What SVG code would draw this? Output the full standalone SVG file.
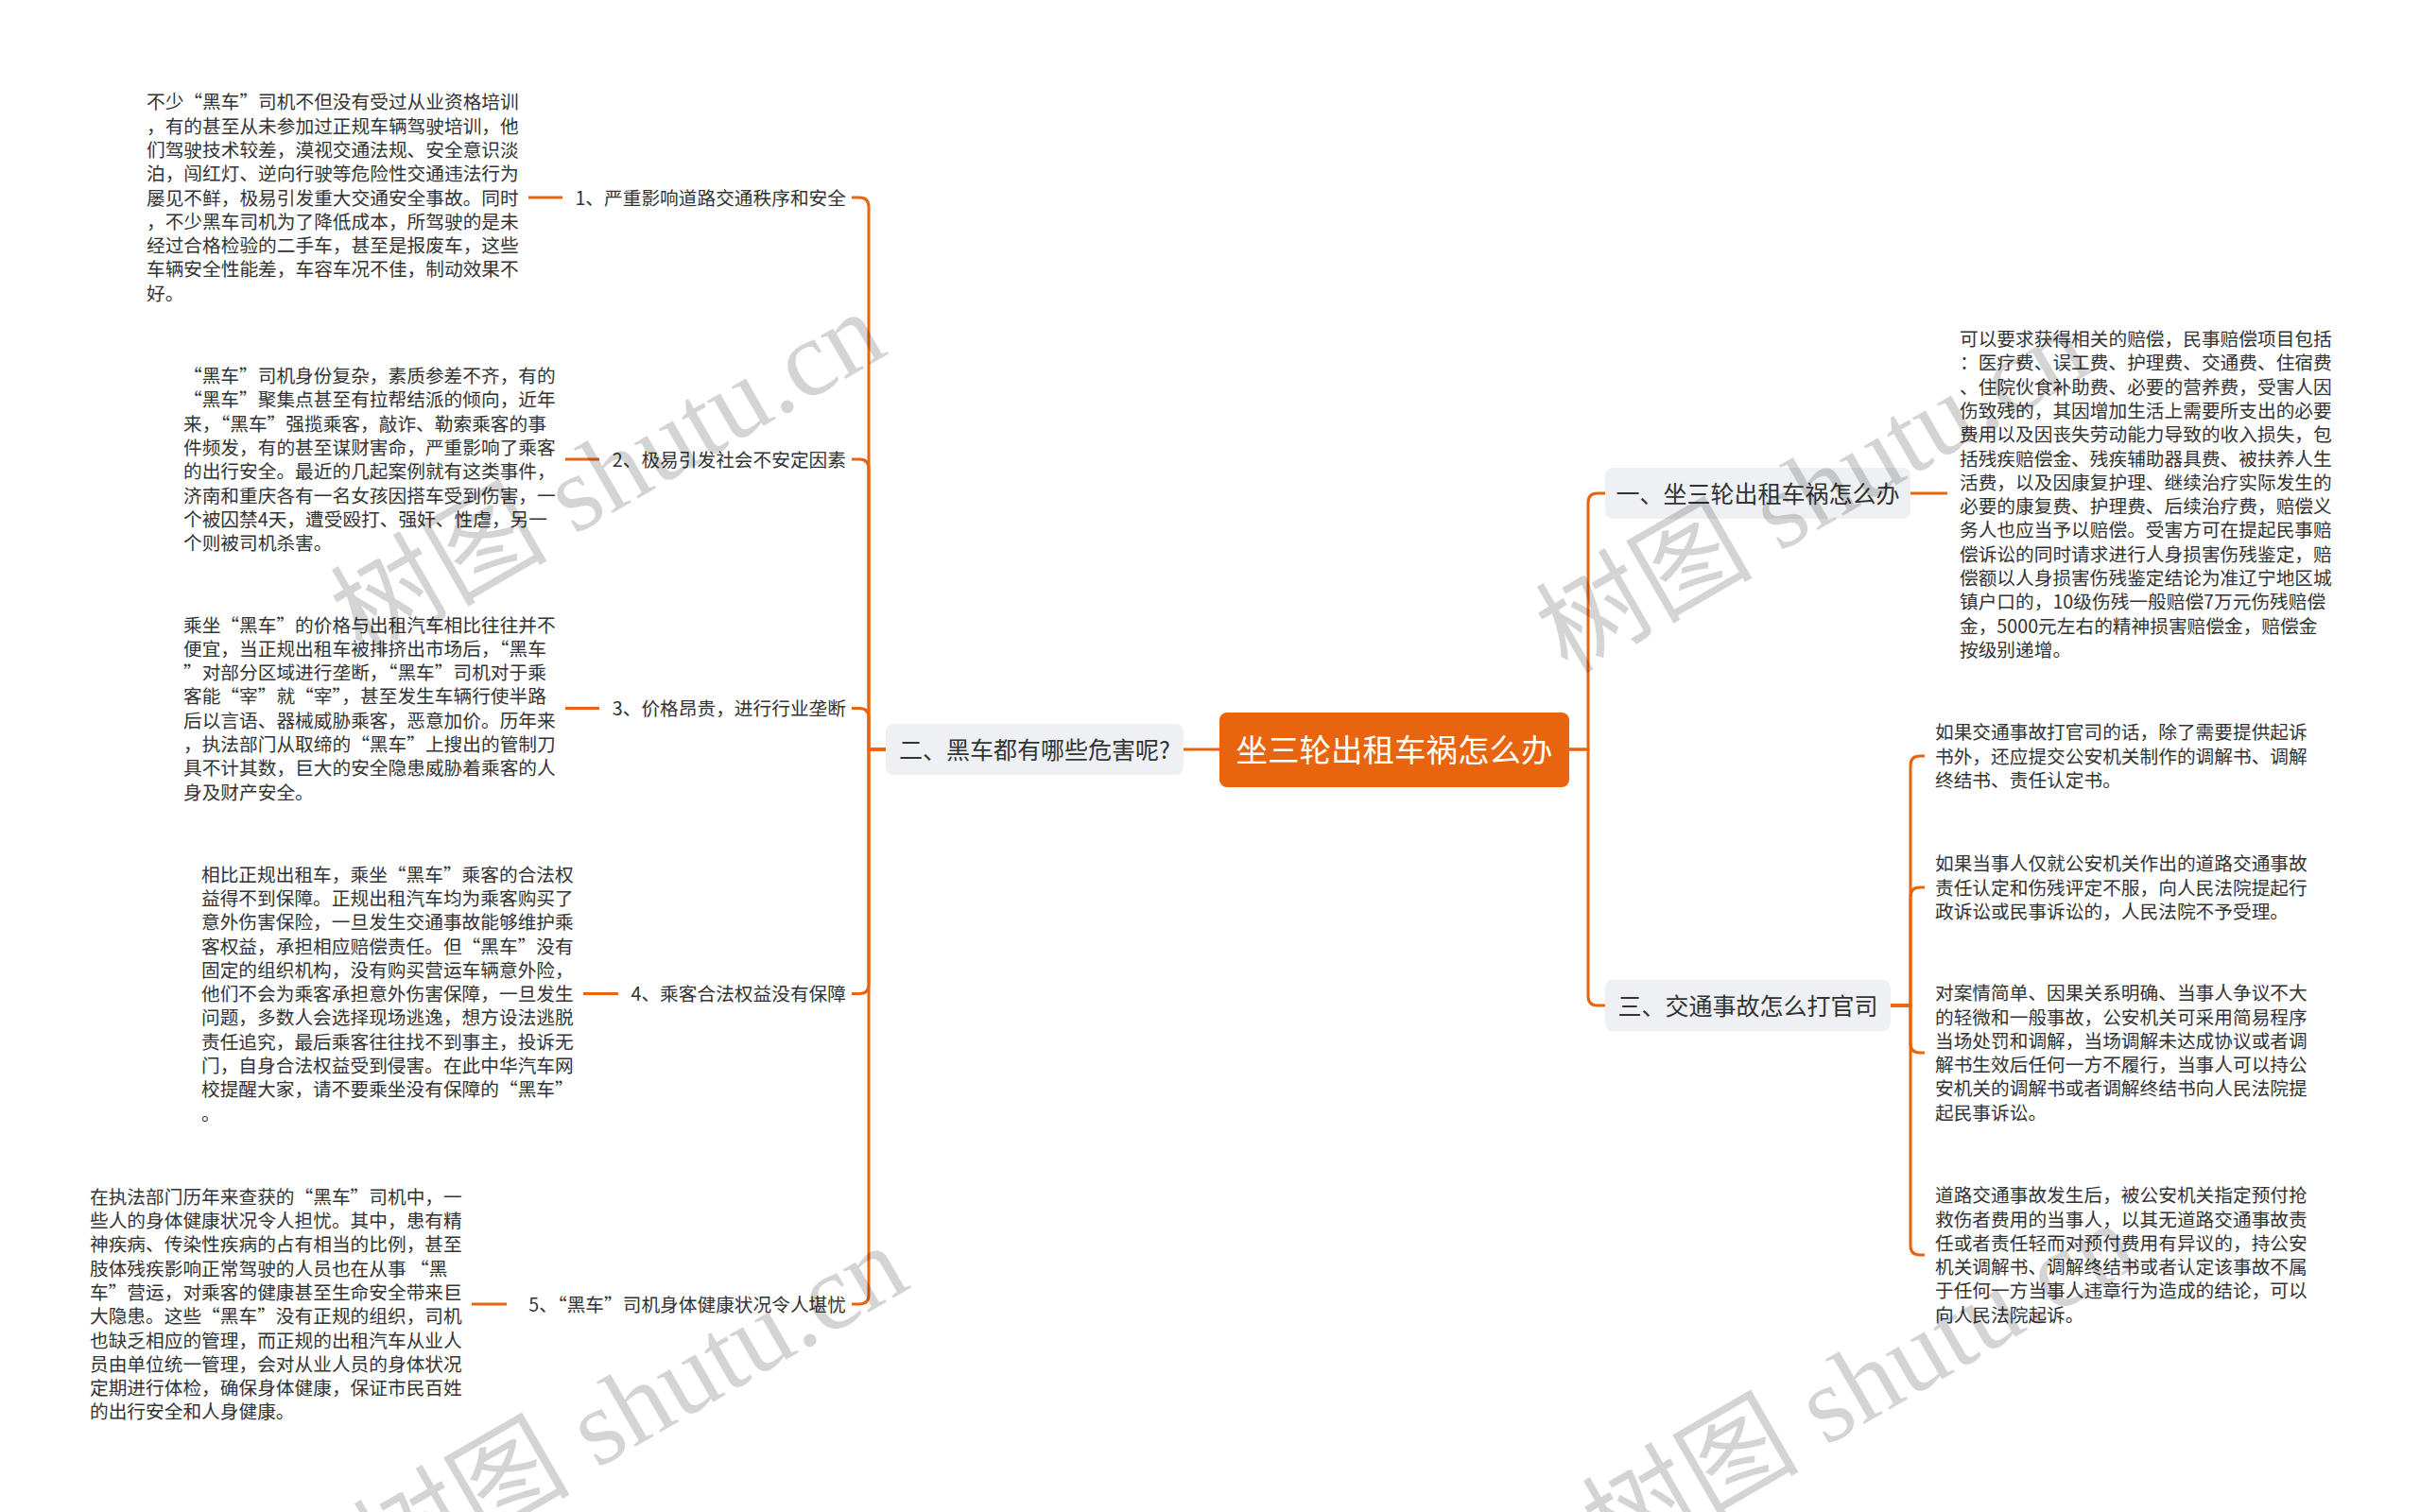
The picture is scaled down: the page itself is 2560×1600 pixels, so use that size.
<svg xmlns="http://www.w3.org/2000/svg" width="2560" height="1600" viewBox="0 0 2560 1600">
<style>
.t{font-family:"Noto Sans CJK SC","Noto Sans",sans-serif;font-size:19.7px;fill:#333}
.n{font-family:"Noto Sans CJK SC","Noto Sans",sans-serif;font-size:25px;fill:#333;text-anchor:middle}
.r{font-family:"Noto Sans CJK SC","Noto Sans",sans-serif;font-size:33.5px;fill:#fff;text-anchor:middle}
.box{fill:#EEF0F3}
.c{stroke:#E8640F;stroke-width:3;fill:none}
.wm{font-family:"Liberation Serif","Noto Sans CJK SC",serif;font-size:115px;fill:#000;fill-opacity:0.17}
</style>
<rect width="2560" height="1600" fill="#fff"/>
<g id="connectors">
<path class="c" d="M1290 793H1252"/>
<path class="c" d="M937 793H919V219Q919 209 909 209H901"/>
<path class="c" d="M937 793H919V496Q919 486 909 486H901"/>
<path class="c" d="M937 793H919V759.5Q919 749.5 909 749.5H901"/>
<path class="c" d="M937 793H919V1041.6Q919 1051.6 909 1051.6H901"/>
<path class="c" d="M937 793H919V1370Q919 1380 909 1380H901"/>
<path class="c" d="M559 209H595"/>
<path class="c" d="M598 486H634"/>
<path class="c" d="M598 749.5H634"/>
<path class="c" d="M617 1051.6H654"/>
<path class="c" d="M499 1380H536"/>
<path class="c" d="M1660 793H1680V532Q1680 522 1690 522H1698"/>
<path class="c" d="M1660 793H1680V1054Q1680 1064 1690 1064H1698"/>
<path class="c" d="M2021 522H2060"/>
<path class="c" d="M2000 1064H2021V810Q2021 800 2031 800H2036"/>
<path class="c" d="M2000 1064H2021V949Q2021 939 2031 939H2036"/>
<path class="c" d="M2000 1064H2021V1104Q2021 1114 2031 1114H2036"/>
<path class="c" d="M2000 1064H2021V1318Q2021 1328 2031 1328H2036"/>
</g>
<g id="root">
<rect x="1290" y="754" width="370" height="79" rx="8" fill="#E8640F"/>
<text class="r" x="1475" y="805.5">坐三轮出租车祸怎么办</text>
</g>
<g id="n2">
<rect class="box" x="937" y="766" width="315" height="54" rx="8"/>
<text class="n" x="1094.5" y="802.5">二、黑车都有哪些危害呢?</text>
</g>
<g id="n1">
<rect class="box" x="1698" y="495" width="323" height="54" rx="8"/>
<text class="n" x="1859.5" y="531.5">一、坐三轮出租车祸怎么办</text>
</g>
<g id="n3">
<rect class="box" x="1698" y="1037" width="302" height="54" rx="8"/>
<text class="n" x="1849" y="1073.5">三、交通事故怎么打官司</text>
</g>
<g id="l1"><text class="t" x="895" y="216.5" text-anchor="end">1、严重影响道路交通秩序和安全</text></g>
<g id="l2"><text class="t" x="895" y="493.5" text-anchor="end">2、极易引发社会不安定因素</text></g>
<g id="l3"><text class="t" x="895" y="757" text-anchor="end">3、价格昂贵，进行行业垄断</text></g>
<g id="l4"><text class="t" x="895" y="1059" text-anchor="end">4、乘客合法权益没有保障</text></g>
<g id="l5"><text class="t" x="895" y="1387.5" text-anchor="end">5、“黑车”司机身体健康状况令人堪忧</text></g>
<g id="d1"><text class="t" x="155" y="115.3">
<tspan x="155">不少“黑车”司机不但没有受过从业资格培训</tspan>
<tspan x="155" dy="25.3">，有的甚至从未参加过正规车辆驾驶培训，他</tspan>
<tspan x="155" dy="25.3">们驾驶技术较差，漠视交通法规、安全意识淡</tspan>
<tspan x="155" dy="25.3">泊，闯红灯、逆向行驶等危险性交通违法行为</tspan>
<tspan x="155" dy="25.3">屡见不鲜，极易引发重大交通安全事故。同时</tspan>
<tspan x="155" dy="25.3">，不少黑车司机为了降低成本，所驾驶的是未</tspan>
<tspan x="155" dy="25.3">经过合格检验的二手车，甚至是报废车，这些</tspan>
<tspan x="155" dy="25.3">车辆安全性能差，车容车况不佳，制动效果不</tspan>
<tspan x="155" dy="25.3">好。</tspan>
</text></g>
<g id="d2"><text class="t" x="194" y="405">
<tspan x="194">“黑车”司机身份复杂，素质参差不齐，有的</tspan>
<tspan x="194" dy="25.3">“黑车”聚集点甚至有拉帮结派的倾向，近年</tspan>
<tspan x="194" dy="25.3">来，“黑车”强揽乘客，敲诈、勒索乘客的事</tspan>
<tspan x="194" dy="25.3">件频发，有的甚至谋财害命，严重影响了乘客</tspan>
<tspan x="194" dy="25.3">的出行安全。最近的几起案例就有这类事件，</tspan>
<tspan x="194" dy="25.3">济南和重庆各有一名女孩因搭车受到伤害，一</tspan>
<tspan x="194" dy="25.3">个被囚禁4天，遭受殴打、强奸、性虐，另一</tspan>
<tspan x="194" dy="25.3">个则被司机杀害。</tspan>
</text></g>
<g id="d3"><text class="t" x="194" y="668.5">
<tspan x="194">乘坐“黑车”的价格与出租汽车相比往往并不</tspan>
<tspan x="194" dy="25.3">便宜，当正规出租车被排挤出市场后，“黑车</tspan>
<tspan x="194" dy="25.3">”对部分区域进行垄断，“黑车”司机对于乘</tspan>
<tspan x="194" dy="25.3">客能“宰”就“宰”，甚至发生车辆行使半路</tspan>
<tspan x="194" dy="25.3">后以言语、器械威胁乘客，恶意加价。历年来</tspan>
<tspan x="194" dy="25.3">，执法部门从取缔的“黑车”上搜出的管制刀</tspan>
<tspan x="194" dy="25.3">具不计其数，巨大的安全隐患威胁着乘客的人</tspan>
<tspan x="194" dy="25.3">身及财产安全。</tspan>
</text></g>
<g id="d4"><text class="t" x="213" y="932.6">
<tspan x="213">相比正规出租车，乘坐“黑车”乘客的合法权</tspan>
<tspan x="213" dy="25.3">益得不到保障。正规出租汽车均为乘客购买了</tspan>
<tspan x="213" dy="25.3">意外伤害保险，一旦发生交通事故能够维护乘</tspan>
<tspan x="213" dy="25.3">客权益，承担相应赔偿责任。但“黑车”没有</tspan>
<tspan x="213" dy="25.3">固定的组织机构，没有购买营运车辆意外险，</tspan>
<tspan x="213" dy="25.3">他们不会为乘客承担意外伤害保障，一旦发生</tspan>
<tspan x="213" dy="25.3">问题，多数人会选择现场逃逸，想方设法逃脱</tspan>
<tspan x="213" dy="25.3">责任追究，最后乘客往往找不到事主，投诉无</tspan>
<tspan x="213" dy="25.3">门，自身合法权益受到侵害。在此中华汽车网</tspan>
<tspan x="213" dy="25.3">校提醒大家，请不要乘坐没有保障的“黑车”</tspan>
<tspan x="213" dy="25.3">。</tspan>
</text></g>
<g id="d5"><text class="t" x="95" y="1273.7">
<tspan x="95">在执法部门历年来查获的“黑车”司机中，一</tspan>
<tspan x="95" dy="25.3">些人的身体健康状况令人担忧。其中，患有精</tspan>
<tspan x="95" dy="25.3">神疾病、传染性疾病的占有相当的比例，甚至</tspan>
<tspan x="95" dy="25.3">肢体残疾影响正常驾驶的人员也在从事 “黑</tspan>
<tspan x="95" dy="25.3">车”营运，对乘客的健康甚至生命安全带来巨</tspan>
<tspan x="95" dy="25.3">大隐患。这些“黑车”没有正规的组织，司机</tspan>
<tspan x="95" dy="25.3">也缺乏相应的管理，而正规的出租汽车从业人</tspan>
<tspan x="95" dy="25.3">员由单位统一管理，会对从业人员的身体状况</tspan>
<tspan x="95" dy="25.3">定期进行体检，确保身体健康，保证市民百姓</tspan>
<tspan x="95" dy="25.3">的出行安全和人身健康。</tspan>
</text></g>
<g id="r1"><text class="t" x="2073" y="366">
<tspan x="2073">可以要求获得相关的赔偿，民事赔偿项目包括</tspan>
<tspan x="2073" dy="25.3">：医疗费、误工费、护理费、交通费、住宿费</tspan>
<tspan x="2073" dy="25.3">、住院伙食补助费、必要的营养费，受害人因</tspan>
<tspan x="2073" dy="25.3">伤致残的，其因增加生活上需要所支出的必要</tspan>
<tspan x="2073" dy="25.3">费用以及因丧失劳动能力导致的收入损失，包</tspan>
<tspan x="2073" dy="25.3">括残疾赔偿金、残疾辅助器具费、被扶养人生</tspan>
<tspan x="2073" dy="25.3">活费，以及因康复护理、继续治疗实际发生的</tspan>
<tspan x="2073" dy="25.3">必要的康复费、护理费、后续治疗费，赔偿义</tspan>
<tspan x="2073" dy="25.3">务人也应当予以赔偿。受害方可在提起民事赔</tspan>
<tspan x="2073" dy="25.3">偿诉讼的同时请求进行人身损害伤残鉴定，赔</tspan>
<tspan x="2073" dy="25.3">偿额以人身损害伤残鉴定结论为准辽宁地区城</tspan>
<tspan x="2073" dy="25.3">镇户口的，10级伤残一般赔偿7万元伤残赔偿</tspan>
<tspan x="2073" dy="25.3">金，5000元左右的精神损害赔偿金，赔偿金</tspan>
<tspan x="2073" dy="25.3">按级别递增。</tspan>
</text></g>
<g id="r3a"><text class="t" x="2047" y="782.2">
<tspan x="2047">如果交通事故打官司的话，除了需要提供起诉</tspan>
<tspan x="2047" dy="25.3">书外，还应提交公安机关制作的调解书、调解</tspan>
<tspan x="2047" dy="25.3">终结书、责任认定书。</tspan>
</text></g>
<g id="r3b"><text class="t" x="2047" y="921.2">
<tspan x="2047">如果当事人仅就公安机关作出的道路交通事故</tspan>
<tspan x="2047" dy="25.3">责任认定和伤残评定不服，向人民法院提起行</tspan>
<tspan x="2047" dy="25.3">政诉讼或民事诉讼的，人民法院不予受理。</tspan>
</text></g>
<g id="r3c"><text class="t" x="2047" y="1058.2">
<tspan x="2047">对案情简单、因果关系明确、当事人争议不大</tspan>
<tspan x="2047" dy="25.3">的轻微和一般事故，公安机关可采用简易程序</tspan>
<tspan x="2047" dy="25.3">当场处罚和调解，当场调解未达成协议或者调</tspan>
<tspan x="2047" dy="25.3">解书生效后任何一方不履行，当事人可以持公</tspan>
<tspan x="2047" dy="25.3">安机关的调解书或者调解终结书向人民法院提</tspan>
<tspan x="2047" dy="25.3">起民事诉讼。</tspan>
</text></g>
<g id="r3d"><text class="t" x="2047" y="1272.2">
<tspan x="2047">道路交通事故发生后，被公安机关指定预付抢</tspan>
<tspan x="2047" dy="25.3">救伤者费用的当事人，以其无道路交通事故责</tspan>
<tspan x="2047" dy="25.3">任或者责任轻而对预付费用有异议的，持公安</tspan>
<tspan x="2047" dy="25.3">机关调解书、调解终结书或者认定该事故不属</tspan>
<tspan x="2047" dy="25.3">于任何一方当事人违章行为造成的结论，可以</tspan>
<tspan x="2047" dy="25.3">向人民法院起诉。</tspan>
</text></g>
<g id="watermarks">
<text class="wm" transform="translate(383 696) rotate(-30)">树图 shutu.cn</text>
<text class="wm" transform="translate(1658 714) rotate(-30)">树图 shutu.cn</text>
<text class="wm" transform="translate(407 1684) rotate(-30)">树图 shutu.cn</text>
<text class="wm" transform="translate(1707 1660) rotate(-30)">树图 shutu.cn</text>
</g>
</svg>
